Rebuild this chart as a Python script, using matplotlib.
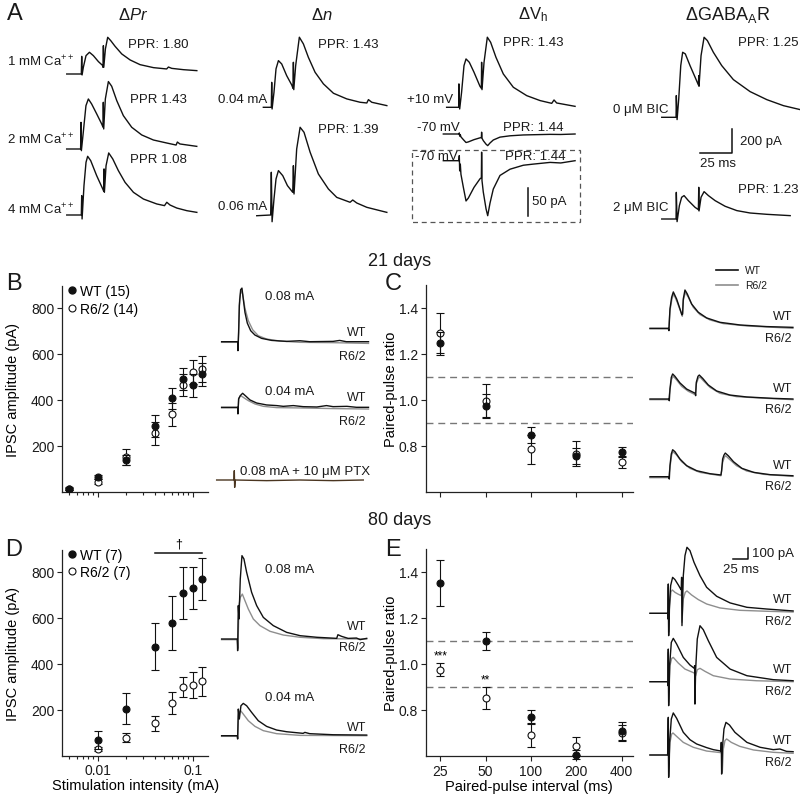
import matplotlib
matplotlib.use('Agg')
import matplotlib.pyplot as plt
from matplotlib.transforms import Affine2D
from matplotlib.lines import Line2D
from matplotlib.patches import Rectangle
from matplotlib.ticker import LogLocator, NullFormatter, FixedLocator

plt.rcParams['font.family'] = ['Liberation Sans', 'DejaVu Sans']
plt.rcParams['mathtext.fontset'] = 'custom'
plt.rcParams['mathtext.rm'] = 'Liberation Sans'
plt.rcParams['mathtext.it'] = 'Liberation Sans:italic'
plt.rcParams['mathtext.bf'] = 'Liberation Sans:bold'

# ---------------- summary data ----------------
stim_B = [0.005, 0.01, 0.02, 0.04, 0.06, 0.08, 0.1, 0.125]
B_wt = [12, 66, 139, 288, 407, 491, 465, 512]
B_wt_err = [5, 10, 22, 47, 45, 48, 50, 50]
B_r62 = [15, 45, 153, 255, 339, 465, 523, 535]
B_r62_err = [5, 10, 34, 49, 50, 46, 52, 55]

stim_D = [0.01, 0.02, 0.04, 0.06, 0.08, 0.1, 0.125]
D_wt = [70, 204, 473, 577, 706, 728, 768]
D_wt_err = [39, 67, 102, 119, 113, 91, 90]
D_r62 = [29, 78, 141, 229, 299, 307, 323]
D_r62_err = [10, 20, 33, 47, 44, 58, 64]

intervals = ['25', '50', '100', '200', '400']
C_wt = [1.245, 0.973, 0.845, 0.755, 0.774]
C_wt_err = [0.05, 0.05, 0.035, 0.035, 0.02]
C_r62 = [1.29, 0.994, 0.784, 0.765, 0.727]
C_r62_err = [0.085, 0.074, 0.064, 0.055, 0.026]

E_wt = [1.354, 1.10, 0.770, 0.605, 0.709]
E_wt_err = [0.10, 0.04, 0.028, 0.02, 0.04]
E_r62 = [0.976, 0.852, 0.69, 0.643, 0.699]
E_r62_err = [0.03, 0.048, 0.05, 0.04, 0.035]
E_stars = ['***', '**', '', '', '']
ppr_bounds = [0.9, 1.1]

# ---------------- example traces: (ms, pA) vertices ----------------
A_ca1 = [(-11.8,0),(-0.3,0),(0,147),(0.3,-8),(1.3,56),(3.4,153),(6.1,181),(9.2,153),(13.2,103),(16.6,70),
         (16.8,56),(17.1,236),(17.4,56),(18.7,209),(20.5,306),(22.9,278),(26.3,231),(31.6,167),(38.2,117),
         (46,78),(56.6,53),(67,42),(68.4,58),(71,47),(80.3,36),(90.8,28)]
A_ca2 = [(-11.3,0),(-0.3,0),(0,222),(0.3,-14),(1.8,139),(3.9,361),(5.8,417),(8.4,375),(12.4,292),(16.3,209),
         (17.4,181),(17.6,389),(17.9,167),(19.2,417),(21.6,562),(24.2,523),(28.2,403),(33.4,278),(40,181),
         (47.9,117),(57.1,75),(67.6,50),(75,33),(76,58),(78,42),(91.3,22)]
A_ca4 = [(-11.8,0),(-0.3,0),(0,161),(0.3,-33),(1.8,245),(3.4,439),(4.7,489),(7.1,453),(11.8,328),(16.6,217),
         (17.4,197),(17.6,384),(17.9,189),(19.2,411),(21.3,517),(24.5,467),(28.9,370),(34.2,272),(40.8,189),
         (48.7,133),(59.2,92),(65.3,78),(67.1,106),(69.7,83),(75,58),(82.9,36),(90.8,22)]
A_n04 = [(-6.6,0),(-0.3,0),(0,208),(0.3,-14),(1.8,125),(3.4,320),(5.3,389),(7.9,361),(11.8,264),(15.8,186),
         (16.8,158),(17.1,375),(17.4,147),(18.9,347),(21.8,584),(25,528),(28.9,417),(34.2,292),(40.8,195),
         (48.7,117),(59.2,70),(69.7,42),(75,36),(76.3,64),(78.9,42),(90.8,14)]
A_n06 = [(-11.8,-6),(-0.8,0),(-0.3,356),(0.3,-56),(1.8,133),(3.4,300),(5.3,370),(8.7,328),(12.4,245),(16.6,189),
         (17.1,411),(17.6,175),(19.7,550),(22.4,731),(25.5,689),(30.3,523),(36.8,342),(44.7,217),(51.3,147),
         (61.8,106),(63.9,125),(67.1,100),(75,64),(85.5,36),(90.8,22)]
A_vp10 = [(-10,0),(-0.5,0),(-0.3,195),(0.3,-14),(1.8,125),(3.7,347),(5.3,403),(7.9,375),(11.6,292),(16.3,175),
          (17.4,158),(17.6,375),(17.9,147),(19.5,375),(22.1,584),(24.7,542),(28.9,417),(34.7,278),(42.6,167),
          (53.2,97),(63.7,56),(72.9,33),(74.7,61),(76.8,36),(91.3,8)]
A_vm70 = [(-12.6,0),(-0.3,0),(0,9),(0.3,-18),(0.8,-6),(1.3,-24),(3.2,-47),(5.3,-71),(7.1,-66),(11.6,-47),
          (16.3,-32),(17.4,-30),(17.6,15),(17.9,-35),(18.9,-55),(21.1,-85),(22.4,-97),(24.2,-75),(26.8,-50),
          (32.1,-26),(40,-15),(50.5,-8),(58.4,-6),(71.6,-3),(80,-4),(91.3,0)]
A_bic0 = [(-11.8,0),(-0.5,0),(-0.3,181),(0.3,-19),(1.6,153),(3.2,431),(4.7,542),(6.8,528),(10.5,431),(14.5,334),
          (17.1,270),(17.4,347),(17.6,259),(19.2,514),(21.6,667),(24.2,639),(28.9,542),(35.5,431),(44.7,314),
          (57.9,214),(71.1,147),(84.2,97),(97.4,64)]
A_bic2 = [(-11.8,0),(-0.5,0),(-0.3,222),(0.3,-22),(2.1,111),(3.9,181),(5.8,195),(9.2,153),(14.5,97),(17.1,78),
          (17.4,264),(17.6,67),(19.2,181),(21.6,228),(25,195),(30.3,153),(38.2,106),(47.4,70),(57.9,50),
          (71.1,39),(89.5,28)]

B08_wt = [(-27.8,0),(-1.1,0),(-0.6,-84),(0.6,87),(1.7,336),(3.9,486),(6.1,501),(8.3,399),(11.1,274),(15,174),
          (20.6,103),(27.8,62),(38.9,31),(55.6,12),(80.6,3),(102.8,9),(119,0),(158,3),(169,12),(180,0),(217,0)]
B08_r62 = [(-27.8,-6),(-1.1,-6),(-0.6,-68),(0.6,118),(2.2,399),(4.4,477),(7.2,445),(11.1,312),(16.7,196),
           (23.9,112),(33.3,56),(47.2,25),(69.4,6),(103,-6),(158,-9),(217,-16)]
B04_wt = [(-27.8,0),(-1.1,0),(-0.6,-62),(0.6,78),(3.3,109),(7.2,131),(12.8,103),(19.4,69),(30.6,40),(47.2,22),
          (63.9,16),(75,9),(91.7,16),(108,6),(131,3),(147,16),(158,6),(181,9),(197,0),(217,0)]
B04_r62 = [(-27.8,-6),(-1.1,-6),(-0.6,-47),(0.6,84),(3.9,109),(8.3,93),(16.7,62),(27.8,31),(41.7,9),(63.9,-3),
           (103,-6),(158,-12),(217,-16)]
B_ptx = [(-29.4,0),(-0.6,0),(0,87),(0.6,-69),(1.7,0),(53.9,-6),(109,0),(165,-6),(215,0)]

D08_wt = [(-27.8,0),(-1.7,0),(-1.1,-109),(0,312),(1.1,187),(3.3,561),(6.1,779),(9.4,748),(13.9,623),(22.2,436),
          (30.6,312),(41.7,202),(58.3,125),(80.6,62),(103,31),(131,16),(164,6),(166,40),(172,25),(183,6),
          (197,9),(203,-6),(214,6)]
D08_r62 = [(-27.8,-6),(-1.7,-6),(-0.6,-87),(1.1,312),(3.3,389),(6.7,420),(11.1,358),(16.7,280),(25,187),
           (36.1,125),(52.8,72),(75,37),(103,16),(142,3),(214,0)]
D04_wt = [(-27.8,0),(-1.7,0),(-1.1,-31),(0,249),(1.7,156),(4.4,280),(8.3,302),(13.9,280),(22.2,218),(33.3,140),
          (47.2,87),(63.9,53),(80.6,37),(108,22),(111,31),(119,19),(158,9),(214,6)]
D04_r62 = [(-27.8,-6),(-1.6,-6),(-1.1,-25),(0.6,218),(3.9,234),(8.3,202),(16.7,140),(27.8,87),(41.7,47),
           (63.9,19),(103,3),(214,0)]

C25_wt = [(-32.2,0),(-1.7,0),(-0.6,-22),(1.1,181),(3.9,290),(6.7,340),(12.2,274),(17.8,181),(21.1,125),
          (22.2,134),(23.3,274),(26.1,358),(30,321),(37.2,227),(48.3,150),(62.2,97),(84.4,56),(118,31),
          (162,16),(206,9)]
C25_r62 = [(-32.2,-6),(-1.1,-6),(1.1,165),(4.4,274),(7.2,321),(13.3,243),(18.9,156),(21.7,112),(23.3,259),
           (26.7,336),(31.7,290),(40,196),(51.1,128),(67.8,78),(90,44),(129,22),(206,0)]
C50_wt = [(-32.2,0),(-1.1,0),(0,-16),(1.1,93),(3.3,202),(5.6,234),(9.4,212),(17.8,150),(28.9,93),(40,62),
          (43.3,53),(43.9,31),(45,156),(47.8,212),(50,224),(55.6,193),(65,131),(78.9,75),(101,37),(129,19),
          (173,6),(206,0)]
C50_r62 = [(-32.2,-6),(-1.1,-6),(1.1,87),(3.9,187),(6.7,212),(12.2,178),(20.6,118),(31.7,72),(43.3,40),
           (45,140),(48.3,193),(51.1,206),(56.7,171),(67.8,109),(84.4,53),(112,22),(162,6),(206,-6)]
C100_wt = [(-32.2,0),(-1.1,0),(0,-22),(1.1,103),(3.3,212),(5.6,252),(9.4,234),(17.8,165),(28.9,103),(45.6,56),
           (67.8,28),(86.1,16),(87.2,56),(88.9,165),(91.1,202),(93.3,221),(98.3,196),(107,140),(121,78),
           (141,40),(168,19),(206,9)]
C100_r62 = [(-32.2,-9),(-1.1,-9),(1.1,87),(3.9,202),(6.1,234),(12.2,202),(20.6,140),(34.4,78),(51.1,40),
            (86.1,9),(88.9,134),(91.7,181),(93.9,196),(101,159),(112,103),(129,53),(157,22),(206,3)]

E25_wt = [(-30.6,0),(-1.1,0),(-0.6,-53),(0,274),(0.6,-209),(1.7,40),(3.9,259),(7.2,336),(11.1,315),(16.7,265),
          (20.6,227),(21.7,218),(22.2,336),(22.8,-115),(25,352),(27.8,539),(31.1,617),(36.1,586),(42.8,477),
          (52.8,352),(63.9,243),(80.6,159),(103,97),(131,56),(164,40),(186,31),(208,22)]
E25_r62 = [(-30.6,0),(-1.1,0),(0,243),(0.6,-178),(2.2,72),(4.4,202),(6.7,218),(11.1,196),(16.7,178),(21.7,165),
           (22.2,305),(22.8,-84),(25,134),(28.3,196),(31.1,209),(38.9,171),(50,128),(63.9,87),(86.1,50),
           (119,28),(164,19),(208,12)]
E50_wt = [(-30.6,0),(-1.1,0),(-0.6,-37),(0,305),(0.6,-224),(2.2,150),(5,367),(8.3,405),(13.9,352),(25,227),
          (36.1,156),(43.3,125),(43.9,150),(44.4,-209),(45.6,118),(48.3,399),(52.8,523),(58.3,486),(66.7,383),
          (80.6,227),(103,118),(131,56),(175,19),(208,9)]
E50_r62 = [(-30.6,0),(-1.1,0),(0,274),(0.6,-193),(2.8,150),(5.6,218),(8.3,227),(16.7,174),(27.8,118),(43.3,81),
           (44.4,56),(45.6,56),(48.3,112),(52.8,125),(61.1,97),(75,56),(103,25),(147,9),(208,0)]
E100_wt = [(-30.6,0),(-1.1,0),(0,352),(0.6,-209),(2.2,118),(5,336),(8.3,393),(13.9,343),(25,212),(36.1,143),
           (47.2,103),(63.9,69),(75,50),(87.8,37),(88.3,118),(88.9,-178),(90,56),(92.8,243),(96.1,305),
           (102,280),(111,212),(131,118),(153,72),(175,50),(186,56),(197,34),(208,31)]
E100_r62 = [(-30.6,0),(-1.1,0),(0,336),(0.6,-193),(2.8,118),(5.6,196),(7.8,206),(13.9,174),(25,118),(41.7,72),
            (63.9,37),(87.8,22),(88.9,87),(90,-162),(91.7,56),(94.4,134),(97.2,150),(105,118),(119,81),
            (142,47),(175,25),(208,16)]

# scale bars (ms, pA)
A_bar = (25, 200)
A_box_bar = 50
E_bar = (25, 100)

# ---------------- figure ----------------
W, H = 800, 803
fig = plt.figure(figsize=(8, 8.03), dpi=100)
ov = fig.add_axes([0, 0, 1, 1])
ov.set_xlim(0, W)
ov.set_ylim(H, 0)
ov.axis('off')

BLACK = '#111111'
GRAY = '#8e8e8e'


def trace(pts, x0, y0, sx, sy, **kw):
    t = [p[0] for p in pts]
    i = [p[1] for p in pts]
    tr = Affine2D().scale(sx, -sy).translate(x0, y0) + ov.transData
    kw.setdefault('lw', 1.0)
    kw.setdefault('color', BLACK)
    ov.plot(t, i, transform=tr, solid_joinstyle='round', **kw)
    return tr


def txt(x, y, s, size=10, **kw):
    kw.setdefault('va', 'center')
    ov.text(x, y, s, fontsize=size, color='#1a1a1a', **kw)


# ---- panel A ----
sxA, syA = 1.268, 0.12
trace(A_ca1, 81.7, 75, sxA, syA)
trace(A_ca2, 81.0, 150, sxA, syA)
trace(A_ca4, 81.7, 216, sxA, syA)
trace(A_n04, 271.7, 108.3, sxA, syA)
trace(A_n06, 271.7, 216, sxA, syA)
trace(A_vp10, 459.3, 108.3, sxA, syA)
trace(A_vm70, 459.3, 135, sxA, syA)
trace(A_vm70, 459.3, 161.7, sxA, 0.567)
trace(A_bic0, 676.7, 118.3, sxA, syA)
trace(A_bic2, 676.7, 220, sxA, syA)

# A scale bars
trA = Affine2D().scale(sxA, -syA).translate(732, 154) + ov.transData
ov.plot([-A_bar[0], 0, 0], [0, 0, A_bar[1]], transform=trA, color=BLACK, lw=1.1)
trBox = Affine2D().scale(sxA, -0.567).translate(528, 217) + ov.transData
ov.plot([0, 0], [0, A_box_bar], transform=trBox, color=BLACK, lw=1.1)
ov.add_patch(Rectangle((412, 151), 168, 72, fill=False, ls=(0, (4, 3)), lw=0.9, ec='#555555'))

txt(15, 14, 'A', 17, ha='center')
txt(133, 15, r'$\Delta\mathit{Pr}$', 12, ha='center')
txt(322, 15, r'$\Delta\mathit{n}$', 12, ha='center')
txt(533, 15, r'$\Delta\mathrm{V}_\mathrm{h}$', 12, ha='center')
txt(728, 15, r'$\Delta\mathrm{GABA}_\mathrm{A}\mathrm{R}$', 13, ha='center')
txt(7, 62, r'1 mM Ca$^{++}$', 9.5, ha='left')
txt(7, 140, r'2 mM Ca$^{++}$', 9.5, ha='left')
txt(7, 210, r'4 mM Ca$^{++}$', 9.5, ha='left')
txt(128, 45, 'PPR: 1.80', 9.5, ha='left')
txt(130, 100, 'PPR 1.43', 9.5, ha='left')
txt(130, 160, 'PPR 1.08', 9.5, ha='left')
txt(218, 100, '0.04 mA', 9.5, ha='left')
txt(218, 207, '0.06 mA', 9.5, ha='left')
txt(318, 45, 'PPR: 1.43', 9.5, ha='left')
txt(318, 130, 'PPR: 1.39', 9.5, ha='left')
txt(407, 100, '+10 mV', 9.5, ha='left')
txt(503, 43, 'PPR: 1.43', 9.5, ha='left')
txt(417, 128, '-70 mV', 9.5, ha='left')
txt(503, 128, 'PPR: 1.44', 9.5, ha='left')
txt(415, 157, '-70 mV', 9.5, ha='left')
txt(505, 157, 'PPR: 1.44', 9.5, ha='left')
txt(532, 202, '50 pA', 9.5, ha='left')
txt(613, 110, '0 μM BIC', 9.5, ha='left')
txt(738, 43, 'PPR: 1.25', 9.5, ha='left')
txt(740, 142, '200 pA', 9.5, ha='left')
txt(718, 164, '25 ms', 9.5, ha='center')
txt(613, 208, '2 μM BIC', 9.5, ha='left')
txt(738, 190, 'PPR: 1.23', 9.5, ha='left')

txt(400, 262, '21 days', 13, ha='center')
txt(400, 521, '80 days', 13, ha='center')
txt(14, 284, 'B', 17, ha='center')
txt(393, 284, 'C', 17, ha='center')
txt(14, 550, 'D', 17, ha='center')
txt(393, 550, 'E', 17, ha='center')

# ---- B / D traces ----
sxT, syT = 0.6, 0.107
trace(B08_r62, 238.3, 342.7, sxT, syT, color=GRAY)
trace(B08_wt, 238.3, 342.7, sxT, syT)
trace(B04_r62, 238.3, 408.3, sxT, syT, color=GRAY)
trace(B04_wt, 238.3, 408.3, sxT, syT)
trace(B_ptx, 234.3, 481, sxT, syT, color='#4a3520')
txt(290, 297, '0.08 mA', 9.5, ha='center')
txt(290, 392, '0.04 mA', 9.5, ha='center')
txt(240, 472, '0.08 mA + 10 μM PTX', 9.5, ha='left')
for y, s in [(333, 'WT'), (357, 'R6/2'), (398, 'WT'), (422, 'R6/2')]:
    txt(366, y, s, 9, ha='right')

trace(D08_r62, 238.3, 640, sxT, syT, color=GRAY)
trace(D08_wt, 238.3, 640, sxT, syT)
trace(D04_r62, 238.3, 736.7, sxT, syT, color=GRAY)
trace(D04_wt, 238.3, 736.7, sxT, syT)
txt(290, 570, '0.08 mA', 9.5, ha='center')
txt(290, 698, '0.04 mA', 9.5, ha='center')
for y, s in [(627, 'WT'), (648, 'R6/2'), (728, 'WT'), (750, 'R6/2')]:
    txt(366, y, s, 9, ha='right')

# ---- C / E traces ----
for pts_r, pts_w, yb in [(C25_r62, C25_wt, 329.3), (C50_r62, C50_wt, 400), (C100_r62, C100_wt, 477.7)]:
    trace(pts_r, 669.3, yb, sxT, syT, color=GRAY)
    trace(pts_w, 669.3, yb, sxT, syT)
for y, s in [(317, 'WT'), (339, 'R6/2'), (389, 'WT'), (410, 'R6/2'), (466, 'WT'), (487, 'R6/2')]:
    txt(792, y, s, 9, ha='right')
# C line legend
ov.plot([716, 738], [271, 271], color=BLACK, lw=1.2)
ov.plot([716, 738], [286, 286], color=GRAY, lw=1.2)
txt(745, 271, 'WT', 7.5, ha='left')
txt(745, 286, 'R6/2', 7.5, ha='left')

for pts_r, pts_w, yb in [(E25_r62, E25_wt, 614.3), (E50_r62, E50_wt, 682.7), (E100_r62, E100_wt, 756)]:
    trace(pts_r, 668.3, yb, sxT, syT, color=GRAY)
    trace(pts_w, 668.3, yb, sxT, syT)
for y, s in [(600, 'WT'), (622, 'R6/2'), (670, 'WT'), (692, 'R6/2'), (741, 'WT'), (763, 'R6/2')]:
    txt(792, y, s, 9, ha='right')
trE = Affine2D().scale(sxT, -syT).translate(748.3, 560) + ov.transData
ov.plot([-E_bar[0], 0, 0], [0, 0, E_bar[1]], transform=trE, color=BLACK, lw=1.1)
txt(752, 554, '100 pA', 9.5, ha='left')
txt(741, 570, '25 ms', 9.5, ha='center')


# ---------------- data axes ----------------
def pax(l, t, r, b):
    ax = fig.add_axes([l / W, 1 - b / H, (r - l) / W, (b - t) / H])
    ax.set_facecolor('none')
    for s in ('top', 'right'):
        ax.spines[s].set_visible(False)
    for s in ('left', 'bottom'):
        ax.spines[s].set_linewidth(0.9)
        ax.spines[s].set_color('#222222')
    ax.tick_params(which='both', direction='out', width=0.8, color='#222222',
                   labelsize=10, pad=2, labelcolor='#1a1a1a')
    ax.tick_params(which='major', length=3.5)
    ax.tick_params(which='minor', length=2.5)
    return ax


EB = dict(ms=5, capsize=2.6, elinewidth=0.8, capthick=0.8, mew=0.8, ecolor='#111111')


def amp_axes(ax, x, wt, wte, r, re, show_x):
    ax.set_xscale('log')
    ax.set_xlim(10 ** -2.376, 10 ** -0.838)
    ax.set_ylim(0, 895)
    ax.errorbar(x, r, yerr=re, fmt='o', mfc='white', mec='#111111', zorder=3, **EB)
    ax.errorbar(x, wt, yerr=wte, fmt='o', mfc='#111111', mec='#111111', zorder=4, **EB)
    ax.xaxis.set_major_locator(FixedLocator([0.01, 0.1]))
    ax.xaxis.set_minor_locator(LogLocator(base=10, subs=[2, 3, 4, 5, 6, 7, 8, 9]))
    ax.xaxis.set_minor_formatter(NullFormatter())
    if show_x:
        ax.set_xticklabels(['0.01', '0.1'])
        ax.set_xlabel('Stimulation intensity (mA)', fontsize=10.5)
        ax.xaxis.set_label_coords(0.507, -0.11)
    else:
        ax.set_xticklabels([])
    ax.set_yticks([200, 400, 600, 800])
    ax.set_ylabel('IPSC amplitude (pA)', fontsize=10.5)
    ax.yaxis.set_label_coords(-0.29, 0.5)


def ppr_axes(ax, wt, wte, r, re, show_x):
    xs = list(range(len(intervals)))
    ax.set_xlim(-0.322, 4.249)
    ax.set_ylim(0.6, 1.5)
    for v in ppr_bounds:
        ax.axhline(v, color='#777777', lw=1.0, dashes=(5, 3.5), zorder=1)
    ax.errorbar(xs, r, yerr=re, fmt='o', mfc='white', mec='#111111', zorder=3, clip_on=False, **EB)
    ax.errorbar(xs, wt, yerr=wte, fmt='o', mfc='#111111', mec='#111111', zorder=4, clip_on=False, **EB)
    ax.set_xticks(xs)
    if show_x:
        ax.set_xticklabels(intervals)
        ax.set_xlabel('Paired-pulse interval (ms)', fontsize=10.5)
        ax.xaxis.set_label_coords(0.5, -0.11)
    else:
        ax.set_xticklabels([])
    ax.set_yticks([0.8, 1.0, 1.2, 1.4])
    ax.set_yticklabels(['0.8', '1.0', '1.2', '1.4'])
    ax.set_ylabel('Paired-pulse ratio', fontsize=10.5)
    ax.yaxis.set_label_coords(-0.135, 0.5)


def legend(ax, n_wt, n_r):
    h = [Line2D([], [], marker='o', ls='none', ms=5, mfc='#111111', mec='#111111'),
         Line2D([], [], marker='o', ls='none', ms=5, mfc='white', mec='#111111', mew=0.8)]
    ax.legend(h, ['WT (%d)' % n_wt, 'R6/2 (%d)' % n_r], loc='upper left', bbox_to_anchor=(0.02, 1.01),
              frameon=False, handletextpad=0.1, handlelength=1.0, borderaxespad=0, borderpad=0,
              labelspacing=0.25, fontsize=10)


axB = pax(62, 493 - 895 * 0.23, 208, 493)
amp_axes(axB, stim_B, B_wt, B_wt_err, B_r62, B_r62_err, False)
legend(axB, 15, 14)

axD = pax(62, 756.7 - 895 * 0.23, 208, 756.7)
amp_axes(axD, stim_D, D_wt, D_wt_err, D_r62, D_r62_err, True)
legend(axD, 7, 7)
axD.plot([stim_D[2], stim_D[-1]], [881, 881], color='#111111', lw=1.1, clip_on=False)
axD.text((stim_D[2] * stim_D[-1]) ** 0.5, 895, '†', ha='center', va='bottom', fontsize=9, clip_on=False)

axC = pax(425.7, 492.7 - 207, 633, 492.7)
ppr_axes(axC, C_wt, C_wt_err, C_r62, C_r62_err, False)

axE = pax(425.7, 757 - 207, 633, 757)
ppr_axes(axE, E_wt, E_wt_err, E_r62, E_r62_err, True)
for i, s in enumerate(E_stars):
    if s:
        axE.text(i, E_r62[i] + E_r62_err[i] + 0.005, s, ha='center', va='bottom', fontsize=8.5)

fig.savefig('out.png', dpi=100)
